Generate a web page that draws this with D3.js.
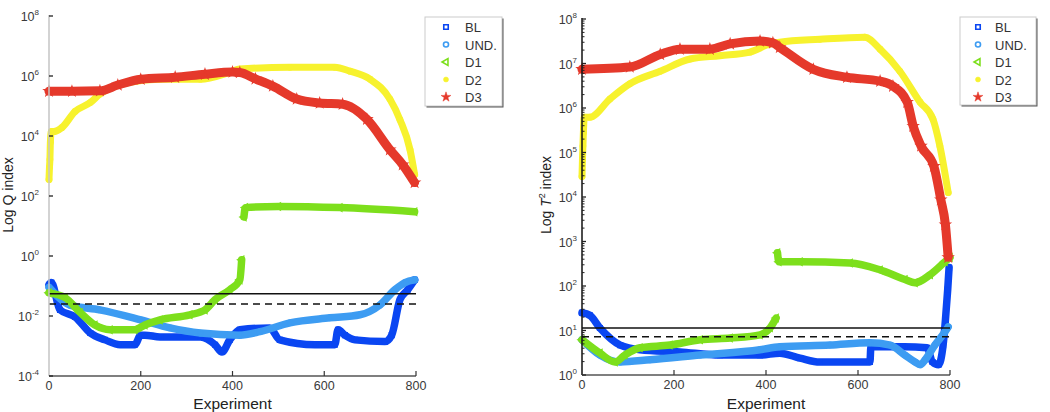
<!DOCTYPE html>
<html><head><meta charset="utf-8">
<script src="https://cdn.jsdelivr.net/npm/d3@7"></script>
<style>
body{margin:0;background:#fff;}
svg{display:block;font-family:"Liberation Sans",Arial,sans-serif;}
</style>
</head><body>
<svg id="c" width="1050" height="412"></svg>
<script>
// ---------- DATA ----------
const seriesNames = ["BL", "UND.", "D1", "D2", "D3"];
const xTicks = [0, 200, 400, 600, 800];
const qTickExps = [-4, -2, 0, 2, 4, 6, 8];
const t2TickExps = [0, 1, 2, 3, 4, 5, 6, 7, 8];

// Left panel: Q index  ([experiment, value]; null = gap)
const qBL = [[0,0.11],[5,0.13],[24,0.016],[57,0.0093],[90,0.0027],[122,0.0016],[155,0.0011],[187,0.0011],[200,0.0023],[209,0.0023],[242,0.002],[330,0.002],[362,0.0011],[377,0.00063],[394,0.0016],[416,0.0035],[481,0.004],[503,0.0016],[580,0.0011],[623,0.0011],[630,0.0035],[645,0.0023],[667,0.0016],[732,0.0014],[747,0.0023],[765,0.035],[782,0.075],[797,0.16]];
const qUND = [[0,0.09],[46,0.023],[111,0.016],[200,0.0074],[264,0.004],[330,0.0027],[416,0.0023],[460,0.003],[525,0.0059],[612,0.0087],[678,0.011],[721,0.023],[754,0.075],[776,0.13],[797,0.16]];
const qD1 = [[0,0.059],[35,0.041],[68,0.013],[100,0.005],[133,0.0035],[187,0.0035],[209,0.005],[242,0.0074],[307,0.011],[340,0.016],[362,0.035],[394,0.075],[416,0.16],[420,0.75],[423,null],[425,20],[428,41],[500,45],[634,41],[797,30]];
const qD2 = [[0,355],[1,890],[2,1660],[3,6200],[5,14000],[10,14000],[28,19000],[57,66000],[90,130000],[111,250000],[176,620000],[242,780000],[330,780000],[395,1350000],[416,1700000],[525,1950000],[623,1950000],[656,1450000],[700,780000],[743,170000],[765,35000],[787,3500],[797,520]];
const qD3 = [[0,310000],[50,310000],[111,320000],[150,500000],[200,780000],[275,910000],[340,1150000],[400,1350000],[416,1300000],[450,800000],[488,460000],[540,170000],[590,126000],[640,115000],[693,36000],[743,3500],[771,1100],[797,280]];
const qLimits = [0.055, 0.025];   // solid, dashed

// Right panel: T^2 index
const tBL = [[0,25],[17,22],[39,11.4],[83,4.7],[126,3.7],[213,3.3],[300,2.8],[387,2.8],[430,3.1],[474,2.4],[517,1.96],[626,1.96],[628,4.3],[700,4.3],[750,4.1],[762,1.96],[775,1.7],[785,4.7],[790,17],[795,83],[798,260]];
const tUND = [[0,6.2],[39,2.8],[83,1.96],[148,2.2],[257,2.8],[387,3.7],[430,4.3],[539,4.7],[626,5.3],[670,4.7],[702,2.8],[724,1.96],[735,1.7],[746,2.2],[767,4.7],[789,9.3],[796,12]];
const tD1 = [[0,6.2],[39,3.1],[72,1.96],[93,2.8],[126,4.1],[191,4.7],[257,6.2],[322,6.8],[387,8],[409,11.5],[422,19],[423,null],[425,560],[428,350],[474,350],[583,330],[648,230],[702,140],[724,118],[757,180],[789,350],[800,440]];
const tD2 = [[0,29000],[1,70000],[2,140000],[3,280000],[5,620000],[17,620000],[61,1600000],[104,3500000],[170,6700000],[235,12600000],[300,15000000],[365,18000000],[409,27500000],[430,30000000],[517,35000000],[615,39000000],[648,21000000],[691,6700000],[735,1350000],[763,560000],[778,140000],[796,12600]];
const tD3 = [[0,7400000],[104,8300000],[170,16000000],[213,21000000],[278,21000000],[322,27500000],[387,32000000],[415,29000000],[430,23000000],[503,7400000],[576,4900000],[648,4000000],[676,3100000],[707,1350000],[720,390000],[737,140000],[765,49000],[780,8700],[790,2400],[796,440]];
const tLimits = [11.4, 7.2];

// ---------- STYLE ----------
const colors = ["#0a46f2", "#3d9cf2", "#7ddf1c", "#f7f22e", "#e5392b"];
const widths = [7.5, 7.5, 7.5, 7, 9];
const symbols = [d3.symbolSquare, d3.symbolCircle, d3.symbolTriangle, d3.symbolCircle, d3.symbolStar];

const svg = d3.select("#c");

function supLabel(g, x, y, exp, anchor) {
  const t = g.append("text").attr("x", x).attr("y", y).attr("text-anchor", anchor)
    .attr("font-size", 12.5).attr("fill", "#3a3a3a");
  t.append("tspan").text("10");
  t.append("tspan").attr("dy", -6).attr("font-size", 8).text(exp);
}

function panel(cfg) {
  const g = svg.append("g");
  const x = d3.scaleLinear().domain([0, 800]).range(cfg.xr);
  const y = d3.scaleLog().domain(cfg.yd).range(cfg.yr);

  const line = d3.line().defined(d => d[1] != null)
    .x(d => x(d[0])).y(d => y(d[1])).curve(d3.curveMonotoneX);
  cfg.series.forEach((s, i) => {
    g.append("path").attr("d", line(s)).attr("fill", "none")
      .attr("stroke", colors[i]).attr("stroke-width", widths[i])
      .attr("stroke-linejoin", "round").attr("stroke-linecap", "round");
    g.selectAll(null).data(s.filter(d => d[1] != null)).enter().append("path")
      .attr("transform", d => `translate(${x(d[0])},${y(d[1])})` + (i === 2 ? " rotate(-90)" : ""))
      .attr("d", d3.symbol().type(symbols[i]).size(i === 4 ? 30 : 24))
      .attr("fill", i >= 3 ? colors[i] : "none")
      .attr("stroke", colors[i]).attr("stroke-width", 1.2);
  });

  cfg.limits.forEach((v, k) => {
    g.append("line").attr("x1", x(0)).attr("x2", x(800))
      .attr("y1", y(v)).attr("y2", y(v))
      .attr("stroke", "#111").attr("stroke-width", 1.5)
      .attr("stroke-dasharray", k === 1 ? "7,5" : null);
  });

  const y0 = cfg.yr[0];
  g.append("line").attr("x1", cfg.xr[0]).attr("x2", cfg.xr[0]).attr("y1", y0).attr("y2", cfg.axisTop)
    .attr("stroke", cfg.yAxisColor).attr("stroke-width", 1.5);
  g.append("line").attr("x1", cfg.xr[0]).attr("x2", cfg.xr[1]).attr("y1", y0).attr("y2", y0)
    .attr("stroke", "#555").attr("stroke-width", 1.5);

  xTicks.forEach(t => {
    if (t > 0) g.append("line").attr("x1", x(t)).attr("x2", x(t)).attr("y1", y0).attr("y2", y0 - 5)
      .attr("stroke", "#333").attr("stroke-width", 1.2);
    g.append("text").attr("x", x(t)).attr("y", y0 + 14).attr("text-anchor", "middle")
      .attr("font-size", 12.5).attr("fill", "#3a3a3a").text(t);
  });

  cfg.tickExps.forEach(e => {
    const yy = y(Math.pow(10, e));
    g.append("line").attr("x1", cfg.xr[0]).attr("x2", cfg.xr[0] + 4).attr("y1", yy).attr("y2", yy)
      .attr("stroke", "#222").attr("stroke-width", 1.3);
    supLabel(g, cfg.xr[0] - cfg.labOff, yy + 5, e, "end");
  });
  if (cfg.minor) {
    const [lo, hi] = cfg.yd;
    for (let e = Math.log10(lo); e < Math.log10(hi); e++) {
      for (let m = 2; m <= 9; m++) {
        const yy = y(m * Math.pow(10, e));
        g.append("line").attr("x1", cfg.xr[0]).attr("x2", cfg.xr[0] + 2.5).attr("y1", yy).attr("y2", yy)
          .attr("stroke", "#222").attr("stroke-width", 1);
      }
    }
  }

  g.append("text").attr("x", (cfg.xr[0] + cfg.xr[1]) / 2).attr("y", 409).attr("text-anchor", "middle")
    .attr("font-size", 15.5).attr("fill", "#222").text("Experiment");
  const yl = g.append("text").attr("transform", `translate(${cfg.ylx},195) rotate(-90)`)
    .attr("text-anchor", "middle").attr("font-size", 14).attr("fill", "#222");
  cfg.ylabel(yl);

  const L = cfg.legend;
  g.append("rect").attr("x", L.x + 1.5).attr("y", L.y + 1.5).attr("width", L.w).attr("height", L.h).attr("fill", "#555");
  g.append("rect").attr("x", L.x).attr("y", L.y).attr("width", L.w).attr("height", L.h)
    .attr("fill", "#fff").attr("stroke", "#ccc").attr("stroke-width", 1);
  seriesNames.forEach((n, i) => {
    const yy = L.y + 10 + i * 17.5;
    g.append("path").attr("transform", `translate(${L.x + L.mx},${yy})` + (i === 2 ? " rotate(-90)" : ""))
      .attr("d", d3.symbol().type(symbols[i]).size(i === 4 ? 30 : 20))
      .attr("fill", i >= 3 ? colors[i] : "#fff")
      .attr("stroke", colors[i]).attr("stroke-width", i >= 3 ? 0.5 : 1.6);
    g.append("text").attr("x", L.x + L.tx).attr("y", yy + 5).attr("font-size", 13)
      .attr("fill", "#333").text(n);
  });
}

panel({
  xr: [49, 416], yd: [1e-4, 1e8], yr: [376, 16], axisTop: 15, yAxisColor: "#c4c4c4",
  series: [qBL, qUND, qD1, qD2, qD3], limits: qLimits, tickExps: qTickExps, minor: false,
  ylx: 13, labOff: 10,
  ylabel: t => { t.text("Log Q index"); },
  legend: {x: 425, y: 17, w: 77, h: 89, mx: 21, tx: 40}
});

panel({
  xr: [582, 950], yd: [1, 1e8], yr: [375, 19], axisTop: 18, yAxisColor: "#111",
  series: [tBL, tUND, tD1, tD2, tD3], limits: tLimits, tickExps: t2TickExps, minor: true,
  ylx: 551, labOff: 5,
  ylabel: t => {
    t.append("tspan").text("Log ");
    t.append("tspan").attr("font-style", "italic").text("T");
    t.append("tspan").attr("dy", -6).attr("font-size", 9).text("2");
    t.append("tspan").attr("dy", 6).text(" index");
  },
  legend: {x: 960, y: 17, w: 76, h: 88, mx: 18, tx: 35}
});
</script>
</body></html>
